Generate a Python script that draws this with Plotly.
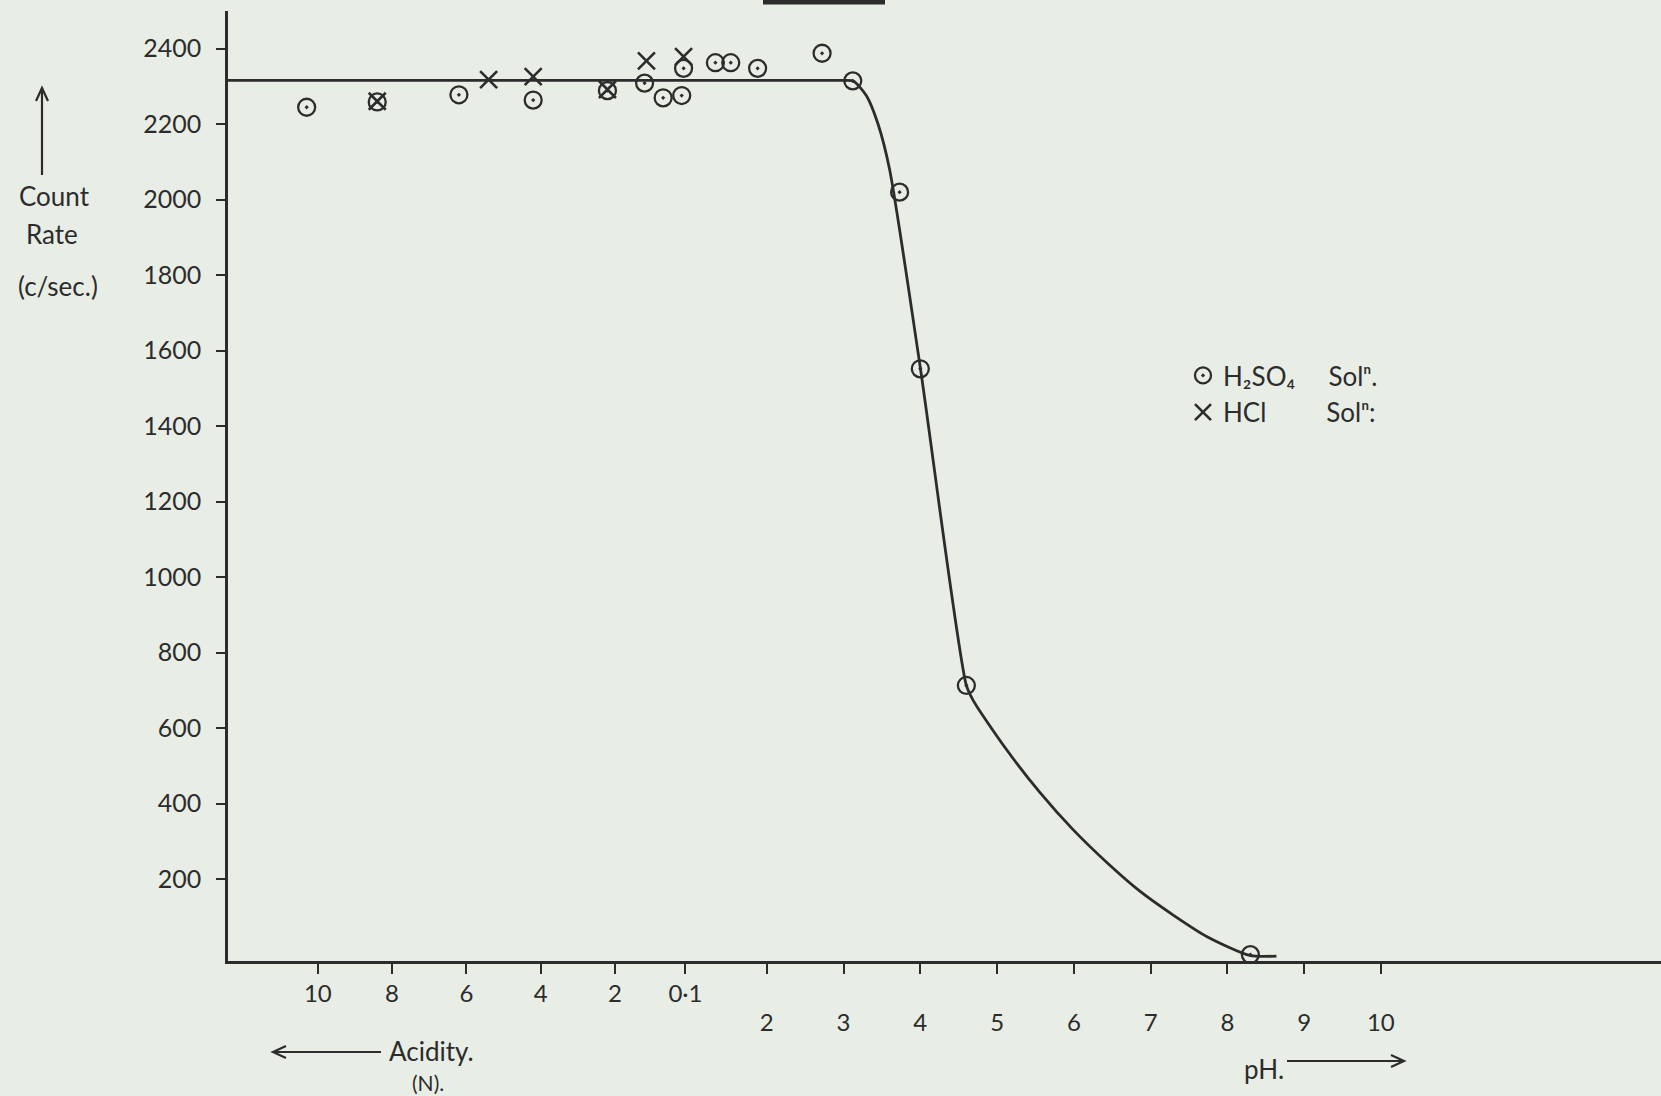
import plotly.graph_objects as go

# ---------------- data ----------------
# Acidity (normality) tick labels on the left part of the x axis, pH ticks on the right
acid_ticks = [10, 8, 6, 4, 2, 0.1]
acid_tick_labels = ["10", "8", "6", "4", "2", "0·1"]
ph_ticks = [2, 3, 4, 5, 6, 7, 8, 9, 10]
ph_tick_labels = ["2", "3", "4", "5", "6", "7", "8", "9", "10"]
rate_ticks = [200, 400, 600, 800, 1000, 1200, 1400, 1600, 1800, 2000, 2200, 2400]
rate_tick_labels = [str(v) for v in rate_ticks]

# H2SO4 solution points: acid region (N) and pH region
h2so4_acid_N = [10.3, 8.4, 6.2, 4.2, 2.2, 1.2, 0.7, 0.2, 0.15]
h2so4_acid_rate = [2245, 2259, 2278, 2264, 2289, 2309, 2270, 2276, 2348]
h2so4_pH = [1.33, 1.53, 1.88, 2.72, 3.12, 3.73, 4.0, 4.6, 8.3]
h2so4_pH_rate = [2363, 2363, 2348, 2388, 2315, 2020, 1552, 713, 0]

# HCl solution points (acid region, N)
hcl_acid_N = [8.4, 5.4, 4.2, 2.2, 1.15, 0.15]
hcl_acid_rate = [2261, 2318, 2326, 2292, 2368, 2379]

# Drawn curve: plateau level then fall-off vs pH
plateau_rate = 2316
curve_pH = [3.0, 3.13, 3.30, 3.45, 3.60, 4.00, 4.60, 4.69, 5.12, 5.56, 5.99, 6.43, 6.86, 7.30, 7.73, 8.29, 8.64]
curve_rate = [2316, 2314, 2275, 2200, 2080, 1555, 713, 673, 544, 429, 331, 244, 168, 104, 48, -2, -4]

# ---------------- axis scale ----------------
X_MIN, X_MAX = -5.02, 13.65
Y_MIN, Y_MAX = -17, 2500


def acid_pos(n):
    # linear normality scale placed left of the pH scale on the same axis
    return 0.988 - 0.4838 * n


FIG_W, FIG_H = 1661, 1096
ML, MR, MT, MB = 228, 0, 11, 135


def px_x(fx):
    return (fx - ML) / (FIG_W - ML - MR)


def px_y(fy):
    return (FIG_H - MB - fy) / (FIG_H - MT - MB)


INK = "#2c2c2c"
BG = "#e8eee6"
FONT = "Lato"

fig = go.Figure()

fig.add_trace(go.Scatter(
    x=[X_MIN] + curve_pH,
    y=[plateau_rate] + curve_rate,
    mode="lines",
    line=dict(color=INK, width=2.8, shape="spline", smoothing=0.7),
    showlegend=False, hoverinfo="skip",
))

fig.add_trace(go.Scatter(
    x=[acid_pos(n) for n in h2so4_acid_N] + h2so4_pH,
    y=h2so4_acid_rate + h2so4_pH_rate,
    mode="markers",
    name="H₂SO₄" + "\u00a0" * 5 + "Solⁿ.",
    marker=dict(symbol="circle-open-dot", size=17, color=INK, line=dict(width=2.3, color=INK)),
))

fig.add_trace(go.Scatter(
    x=[acid_pos(n) for n in hcl_acid_N],
    y=hcl_acid_rate,
    mode="markers",
    name="HCl" + "\u00a0" * 9 + "Solⁿ:",
    marker=dict(symbol="x-thin-open", size=17, color=INK, line=dict(width=2.6, color=INK)),
))

# dummy traces so the label-only axes are drawn
fig.add_trace(go.Scatter(x=[None], y=[None], xaxis="x2", showlegend=False, hoverinfo="skip"))
fig.add_trace(go.Scatter(x=[None], y=[None], xaxis="x3", showlegend=False, hoverinfo="skip"))

tick_font = dict(size=24, color=INK, family=FONT)

fig.update_layout(
    width=FIG_W, height=FIG_H,
    margin=dict(l=ML, r=MR, t=MT, b=MB, pad=0),
    paper_bgcolor=BG, plot_bgcolor=BG,
    font=dict(family=FONT, size=24, color=INK),
    xaxis=dict(
        range=[X_MIN, X_MAX], showgrid=False, zeroline=False,
        showline=True, linecolor=INK, linewidth=2.5,
        ticks="outside", ticklen=10, tickwidth=2, tickcolor=INK,
        tickvals=[acid_pos(n) for n in acid_ticks] + ph_ticks,
        showticklabels=False,
    ),
    xaxis2=dict(
        range=[X_MIN, X_MAX], overlaying="x", side="bottom",
        showgrid=False, zeroline=False, showline=False, ticks="",
        tickvals=[acid_pos(n) for n in acid_ticks], ticktext=acid_tick_labels,
        tickfont=tick_font, ticklabelstandoff=16,
    ),
    xaxis3=dict(
        range=[X_MIN, X_MAX], overlaying="x", side="bottom",
        showgrid=False, zeroline=False, showline=False, ticks="",
        tickvals=ph_ticks, ticktext=ph_tick_labels,
        tickfont=tick_font, ticklabelstandoff=45,
    ),
    yaxis=dict(
        range=[Y_MIN, Y_MAX], showgrid=False, zeroline=False,
        showline=True, linecolor=INK, linewidth=2.5,
        ticks="outside", ticklen=9, tickwidth=2, tickcolor=INK,
        tickvals=rate_ticks, ticktext=rate_tick_labels,
        tickfont=dict(size=25, color=INK, family=FONT),
        ticklabelstandoff=10,
    ),
    legend=dict(
        x=px_x(1183), y=px_y(352), xanchor="left", yanchor="top",
        bgcolor="rgba(0,0,0,0)", font=dict(size=26, color=INK, family=FONT),
    ),
)


def label(fx, fy, text, size=26, xanchor="center"):
    return dict(x=px_x(fx), y=px_y(fy), xref="paper", yref="paper", text=text,
                showarrow=False, xanchor=xanchor, yanchor="middle",
                font=dict(size=size, color=INK, family=FONT))


fig.update_layout(annotations=[
    label(54, 196, "Count"),
    label(52, 234, "Rate"),
    label(58, 286, "(c/sec.)"),
    label(387, 1051, "Acidity.", size=26, xanchor="left"),
    label(428, 1082, "(N).", size=21),
    label(1264, 1069, "pH.", size=26),
])


def arrow_shapes(x0, y0, x1, y1, head=13, half=6):
    """Hand-drawn style arrow from (x0,y0) to tip (x1,y1), in page pixels."""
    dx, dy = x1 - x0, y1 - y0
    length = (dx * dx + dy * dy) ** 0.5
    ux, uy = dx / length, dy / length
    bx, by = x1 - ux * head, y1 - uy * head
    px_, py_ = -uy * half, ux * half
    shaft = dict(type="line", xref="paper", yref="paper",
                 x0=px_x(x0), y0=px_y(y0), x1=px_x(x1), y1=px_y(y1),
                 line=dict(color=INK, width=2.2))
    path = "M {:.5f},{:.5f} L {:.5f},{:.5f} L {:.5f},{:.5f}".format(
        px_x(bx + px_), px_y(by + py_), px_x(x1), px_y(y1), px_x(bx - px_), px_y(by - py_))
    headshape = dict(type="path", xref="paper", yref="paper", path=path,
                     line=dict(color=INK, width=2.2))
    return [shaft, headshape]


shapes = []
shapes += arrow_shapes(42, 175, 42, 88)        # up arrow over "Count Rate"
shapes += arrow_shapes(381, 1052, 273, 1052)   # acidity arrow (left)
shapes += arrow_shapes(1287, 1061, 1404, 1061)  # pH arrow (right)
# underline of the (cropped) figure caption at the very top
shapes.append(dict(type="line", xref="paper", yref="paper",
                   x0=px_x(763), x1=px_x(885), y0=px_y(2), y1=px_y(2),
                   line=dict(color=INK, width=5)))
fig.update_layout(shapes=shapes)

fig.write_html(
    "out.html",
    config={"displayModeBar": False},
    post_script="document.body.style.margin='0';document.body.style.overflow='hidden';",
)
